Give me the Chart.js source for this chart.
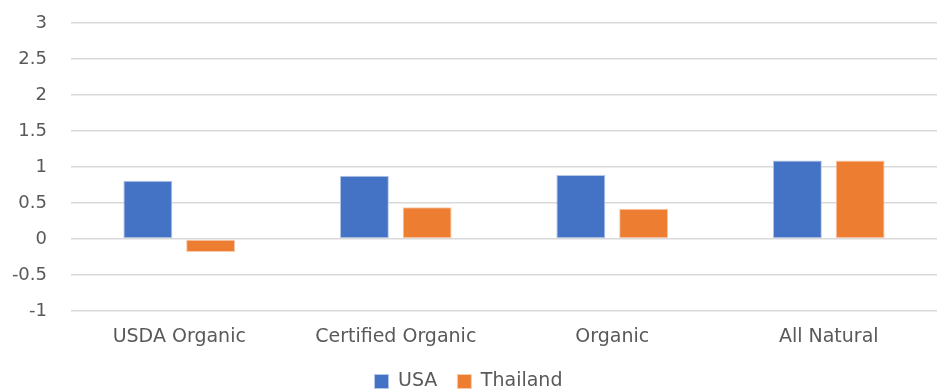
<!DOCTYPE html>
<html>
<head>
<meta charset="utf-8">
<script src="https://cdn.jsdelivr.net/npm/chart.js@4.4.1/dist/chart.umd.min.js"></script>
<style>
    html, body { margin: 0; padding: 0; background: #fff; }
    #wrap { width: 937px; height: 391px; position: relative; }
</style>
</head>
<body>
<div id="wrap"><canvas id="myChart"></canvas></div>
<script>
var categories = ['USDA Organic', 'Certified Organic', 'Organic', 'All Natural'];
var usaValues = [0.81, 0.88, 0.89, 1.09];
var thailandValues = [-0.18, 0.44, 0.42, 1.09];
var yTicks = [-1, -0.5, 0, 0.5, 1, 1.5, 2, 2.5, 3];

var textColor = '#595959';
var fontName = '"DejaVu Sans", sans-serif';

// Shrink the legend box so it sits lower, close to the bottom edge
var legendShift = {
    id: 'legendShift',
    beforeInit: function (chart) {
        var origFit = chart.legend.fit;
        chart.legend.fit = function () {
            origFit.bind(chart.legend)();
            this.height -= 10;
        };
    }
};

var ctx = document.getElementById('myChart').getContext('2d');
var myChart = new Chart(ctx, {
    type: 'bar',
    data: {
        labels: categories,
        datasets: [
            {
                label: 'USA',
                data: usaValues,
                backgroundColor: '#4472C4',
                borderColor: '#b4c7e7',
                borderWidth: 1,
                borderSkipped: false
            },
            {
                label: 'Thailand',
                data: thailandValues,
                backgroundColor: '#ED7D31',
                borderColor: '#f8cbad',
                borderWidth: 1,
                borderSkipped: false
            }
        ]
    },
    plugins: [legendShift],
    options: {
        responsive: true,
        maintainAspectRatio: false,
        animation: false,
        layout: { padding: { top: 23, right: 0, left: 0, bottom: 0 } },
        datasets: {
            bar: { categoryPercentage: 0.58, barPercentage: 0.78 }
        },
        plugins: {
            legend: {
                position: 'bottom',
                labels: {
                    boxWidth: 14,
                    boxHeight: 14,
                    padding: 20,
                    color: textColor,
                    font: { family: fontName, size: 19 }
                }
            },
            tooltip: { enabled: false }
        },
        scales: {
            x: {
                afterFit: function (axis) {
                    axis.height = 41;
                },
                grid: { display: false, drawTicks: false },
                border: { display: false },
                ticks: {
                    color: textColor,
                    padding: 15,
                    font: { family: fontName, size: 19 }
                }
            },
            y: {
                min: -1,
                max: 3,
                afterBuildTicks: function (axis) {
                    // use the fixed tick list
                    axis.ticks = yTicks.map(function (v) { return { value: v }; });
                },
                afterFit: function (axis) {
                    axis.width = 71;
                    axis.paddingTop = 0;
                    axis.paddingBottom = 0;
                },
                grid: { color: '#d9d9d9', lineWidth: 1.5, drawTicks: false },
                border: { display: false },
                ticks: {
                    color: textColor,
                    padding: 24,
                    font: { family: fontName, size: 18 },
                    callback: function (value) { return String(value); }
                }
            }
        }
    }
});
</script>
</body>
</html>
